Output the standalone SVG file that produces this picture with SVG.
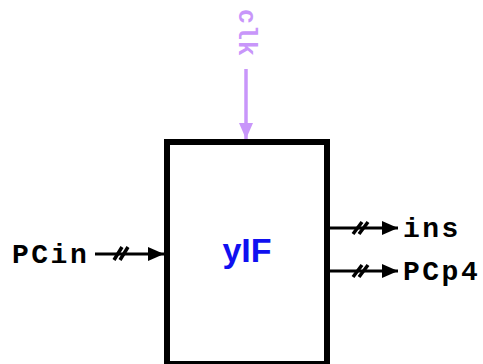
<svg xmlns="http://www.w3.org/2000/svg" width="483" height="364" viewBox="0 0 483 364">
<style>
.lbl{font-family:"Liberation Mono","Courier New",monospace;font-weight:bold;font-size:28px;letter-spacing:2.5px;fill:#000}
.clk{font-family:"Liberation Mono","Courier New",monospace;font-weight:bold;font-size:25px;letter-spacing:1px;fill:#c896fa}
.wire{stroke:#000;stroke-width:3;fill:none}
.slash{stroke:#000;stroke-width:3.5;fill:none}
</style>
<defs>
<marker id="ah" markerUnits="userSpaceOnUse" viewBox="0 0 16 14" refX="16" refY="7" markerWidth="16" markerHeight="14" orient="auto">
<path d="M0,0 L16,7 L0,14 z" fill="#000"/>
</marker>
<marker id="ahp" markerUnits="userSpaceOnUse" viewBox="0 0 16 14" refX="16" refY="7" markerWidth="16" markerHeight="14" orient="auto">
<path d="M0,0 L16,7 L0,14 z" fill="#c896fa"/>
</marker>
</defs>
<rect width="483" height="364" fill="#fff"/>
<g id="yIF">
<rect x="167" y="142" width="160" height="222" fill="#fff" stroke="#000" stroke-width="6"/>
<text x="247" y="262" text-anchor="middle" font-family="Liberation Sans, Arial, sans-serif" font-weight="bold" font-size="34" fill="#1010f0">yIF</text>
</g>
<g id="connectors">
<line x1="246" y1="69" x2="246" y2="139" stroke="#c896fa" stroke-width="3.5" marker-end="url(#ahp)"/>
<line class="wire" x1="95" y1="254" x2="164" y2="254" marker-end="url(#ah)"/>
<path class="slash" d="M114,260 L122,247 M120,260 L128,247"/>
<line class="wire" x1="330" y1="228" x2="398" y2="228" marker-end="url(#ah)"/>
<path class="slash" d="M353,234 L362,222 M359,234 L368,222"/>
<line class="wire" x1="330" y1="271" x2="398" y2="271" marker-end="url(#ah)"/>
<path class="slash" d="M353,277 L362,265 M359,277 L368,265"/>
</g>
<g id="labels">
<text class="clk" transform="translate(239,9) rotate(90)">clk</text>
<text class="lbl" x="12" y="263">PCin</text>
<text class="lbl" x="403" y="237">ins</text>
<text class="lbl" x="403" y="280">PCp4</text>
</g>
</svg>
